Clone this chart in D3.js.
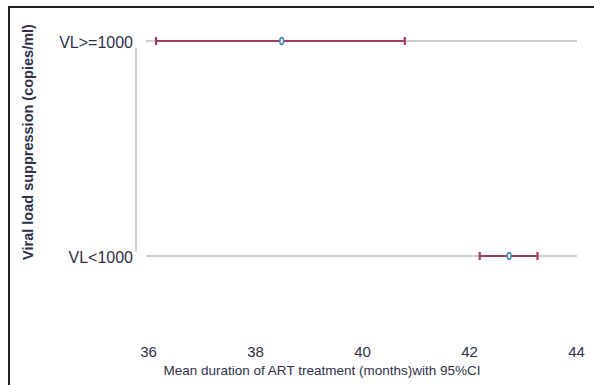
<!DOCTYPE html>
<html>
<head>
<meta charset="utf-8">
<script src="https://cdn.jsdelivr.net/npm/d3@7"></script>
<style>
  body { margin: 0; background: #fff; }
  text { font-family: "Liberation Sans", Arial, sans-serif; fill: #30304a; }
</style>
</head>
<body>
<div id="chart"></div>
<script>
// groups, top to bottom
const groups = ['VL>=1000', 'VL<1000'];
// mean duration and 95% CI (months)
const means = [38.5, 42.75];
const lower = [36.15, 42.2];
const upper = [40.8, 43.28];
const xTicks = [36, 38, 40, 42, 44];

const w = 594, h = 385;

const svg = d3.select('#chart').append('svg')
    .attr('width', w)
    .attr('height', h);

// frame, only top and left edges show
svg.append('line').attr('x1', 8).attr('x2', w).attr('y1', 7).attr('y2', 7)
    .attr('stroke', '#222').attr('stroke-width', 2);
svg.append('line').attr('x1', 9).attr('x2', 9).attr('y1', 6).attr('y2', h)
    .attr('stroke', '#222').attr('stroke-width', 2);

const xScale = d3.scaleLinear().domain([36, 44]).range([148, 576]);
const yScale = d3.scalePoint().domain(groups).range([41, 256]);

// vertical axis line
svg.append('line')
    .attr('x1', 136).attr('x2', 136)
    .attr('y1', 48).attr('y2', 252)
    .attr('stroke', '#c4c4c4').attr('stroke-width', 1.5);

// horizontal reference lines
svg.selectAll('.ref')
    .data(groups)
    .enter()
    .append('line')
    .attr('class', 'ref')
    .attr('x1', xScale(36) - 2)
    .attr('x2', xScale(44) + 1)
    .attr('y1', d => yScale(d))
    .attr('y2', d => yScale(d))
    .attr('stroke', '#cfcfcf')
    .attr('stroke-width', 2);

// x axis tick labels (no axis line)
const xAxis = d3.axisBottom(xScale).tickValues(xTicks).tickSize(0).tickPadding(0);
const xAxisG = svg.append('g')
    .attr('transform', 'translate(0,346)')
    .call(xAxis);
xAxisG.select('.domain').remove();
xAxisG.selectAll('text')
    .style('font-size', '15px')
    .attr('fill', '#30304a');

// y labels
svg.selectAll('.ylab')
    .data(groups)
    .enter()
    .append('text')
    .attr('class', 'ylab')
    .attr('x', 133)
    .attr('y', d => yScale(d) + 7)
    .attr('text-anchor', 'end')
    .style('font-size', '16px')
    .text(d => d);

// error bars
const data = groups.map((g, i) => ({ g: g, m: means[i], lo: lower[i], hi: upper[i] }));
const color = '#a33a60';

const bars = svg.selectAll('.bar')
    .data(data)
    .enter()
    .append('g')
    .attr('class', 'bar');

bars.append('line')
    .attr('x1', d => xScale(d.lo))
    .attr('x2', d => xScale(d.hi))
    .attr('y1', d => yScale(d.g))
    .attr('y2', d => yScale(d.g))
    .attr('stroke', color)
    .attr('stroke-width', 2);

bars.append('line')
    .attr('x1', d => xScale(d.lo))
    .attr('x2', d => xScale(d.lo))
    .attr('y1', d => yScale(d.g) - 4)
    .attr('y2', d => yScale(d.g) + 4)
    .attr('stroke', color)
    .attr('stroke-width', 2.2);

bars.append('line')
    .attr('x1', d => xScale(d.hi))
    .attr('x2', d => xScale(d.hi))
    .attr('y1', d => yScale(d.g) - 4)
    .attr('y2', d => yScale(d.g) + 4)
    .attr('stroke', color)
    .attr('stroke-width', 2.2);

bars.append('ellipse')
    .attr('cx', d => xScale(d.m))
    .attr('cy', d => yScale(d.g))
    .attr('rx', 2)
    .attr('ry', 3.5)
    .attr('fill', '#d8e8f2')
    .attr('stroke', '#3f86b0')
    .attr('stroke-width', 1.3);

// axis titles
svg.append('text')
    .attr('x', 322)
    .attr('y', 375)
    .attr('text-anchor', 'middle')
    .style('font-size', '13.5px')
    .text('Mean duration of ART treatment (months)with 95%CI');

svg.append('text')
    .attr('transform', 'translate(33,142) rotate(-90)')
    .attr('text-anchor', 'middle')
    .style('font-size', '14.5px')
    .style('font-weight', 'bold')
    .text('Viral load suppression (copies/ml)');
</script>
</body>
</html>
